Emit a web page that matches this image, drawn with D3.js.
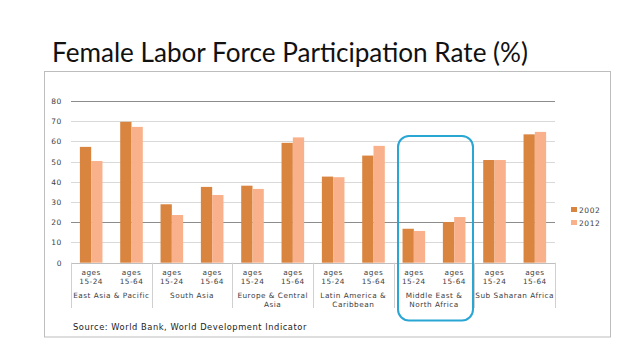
<!DOCTYPE html>
<html><head><meta charset="utf-8">
<script src="https://cdn.jsdelivr.net/npm/d3@7"></script>
<style>body{margin:0;background:#fff}svg{display:block}</style>
</head><body><svg id="c" width="638" height="359"></svg>
<script>
const regions = ["East Asia & Pacific","South Asia","Europe & Central Asia","Latin America & Caribbean","Middle East & North Africa","Sub Saharan Africa"];
const regionLines = [["East Asia & Pacific"],["South Asia"],["Europe & Central","Asia"],["Latin America &","Caribbean"],["Middle East &","North Africa"],["Sub Saharan Africa"]];
const ageGroups = ["15-24","15-64"];
const seriesNames = ["2002","2012"];
const values2002 = [57.3,69.7,28.9,37.5,38.1,59.3,42.6,53.0,16.8,20.1,50.8,63.5];
const values2012 = [50.3,67.2,23.6,33.5,36.5,62.0,42.3,57.8,15.7,22.6,50.8,64.7];
const yTicks = [0,10,20,30,40,50,60,70,80];
const colors = ["#D9843F","#F8B18B"];

const svg = d3.select("#c");
// frame
svg.append("rect").attr("x",44.5).attr("y",71.5).attr("width",566).attr("height",265.5)
  .attr("fill","none").attr("stroke","#bdbdbd").attr("stroke-width",1);
// title
svg.append("text").attr("x",52).attr("y",61.5).attr("font-family","Lato, 'Open Sans', sans-serif")
  .attr("font-size",27).attr("fill","#111").attr("textLength",476).attr("lengthAdjust","spacingAndGlyphs")
  .text("Female Labor Force Participation Rate (%)");

const x0 = 71, x1 = 555, yTop = 101, yBot = 262.7;
const items = [];
regions.forEach((r,i)=>ageGroups.forEach((a,j)=>items.push({key:i*2+j, region:i, age:a})));
const x = d3.scaleBand().domain(items.map(d=>d.key)).range([x0,x1]).paddingInner(0.44).paddingOuter(0.22);
const xr = d3.scaleBand().domain(d3.range(regions.length)).range([x0,x1]);
const y = d3.scaleLinear().domain([0,80]).range([yBot,yTop]);

// gridlines
svg.append("g").selectAll("line").data(yTicks.filter(t=>t>0)).join("line")
  .attr("x1",x0).attr("x2",x1).attr("y1",d=>Math.round(y(d))+0.5).attr("y2",d=>Math.round(y(d))+0.5)
  .attr("stroke",d=>(d===20||d===80)?"#8c8c8c":"#d9d9d9").attr("stroke-width",1);

const tf = "'DejaVu Sans', Verdana, sans-serif";
// y axis labels
const yAxis = d3.axisLeft(y).tickValues(yTicks).tickSize(0).tickPadding(0);
const ya = svg.append("g").attr("transform",`translate(62,0)`).call(yAxis);
ya.select(".domain").remove();
ya.selectAll("text").attr("font-family",tf).attr("font-size",7.5).attr("letter-spacing",0.6).attr("fill","#404040");

// bars
const bw = x.bandwidth()/2;
const g = svg.append("g");
[values2002, values2012].forEach((vals,s)=>{
  g.selectAll(null).data(items).join("rect")
    .attr("x",d=>x(d.key)+s*bw).attr("width",bw)
    .attr("y",d=>y(vals[d.key])).attr("height",d=>y(0)-y(vals[d.key]))
    .attr("fill",colors[s]);
});

// x axis line
svg.append("line").attr("x1",x0).attr("x2",x1).attr("y1",Math.round(yBot)+0.5).attr("y2",Math.round(yBot)+0.5)
  .attr("stroke","#bfbfbf");
// separators
svg.append("g").selectAll("line").data(d3.range(regions.length+1)).join("line")
  .attr("x1",d=>Math.round(d<regions.length?xr(d):x1)+0.5).attr("x2",d=>Math.round(d<regions.length?xr(d):x1)+0.5)
  .attr("y1",yBot).attr("y2",308).attr("stroke","#d0d0d0");

const lab = svg.append("g").attr("font-family",tf).attr("font-size",7.3).attr("letter-spacing",0.5).attr("fill","#404040").attr("text-anchor","middle");
items.forEach(d=>{
  const cx = x(d.key)+x.bandwidth()/2;
  lab.append("text").attr("x",cx).attr("y",275).text("ages");
  lab.append("text").attr("x",cx).attr("y",283.5).text(d.age);
});
regionLines.forEach((lines,i)=>{
  lines.forEach((t,k)=>{
    lab.append("text").attr("x",xr(i)+xr.bandwidth()/2).attr("y",298+k*9).text(t);
  });
});

// legend
const leg = svg.append("g");
seriesNames.forEach((n,i)=>{
  leg.append("rect").attr("x",571).attr("y",207+i*13).attr("width",6).attr("height",5).attr("fill",colors[i]);
  leg.append("text").attr("x",579).attr("y",212.5+i*13).attr("font-family",tf).attr("font-size",7.5).attr("letter-spacing",0.6).attr("fill","#404040").text(n);
});

// highlight box
svg.append("rect").attr("x",398).attr("y",136).attr("width",75).attr("height",184.5).attr("rx",11)
  .attr("fill","none").attr("stroke","#2AA6D5").attr("stroke-width",2);

// source
svg.append("text").attr("x",73).attr("y",329.5).attr("font-family",tf).attr("font-size",8.3).attr("letter-spacing",0.55).attr("fill","#222")
  .text("Source: World Bank, World Development Indicator");
</script></body></html>
